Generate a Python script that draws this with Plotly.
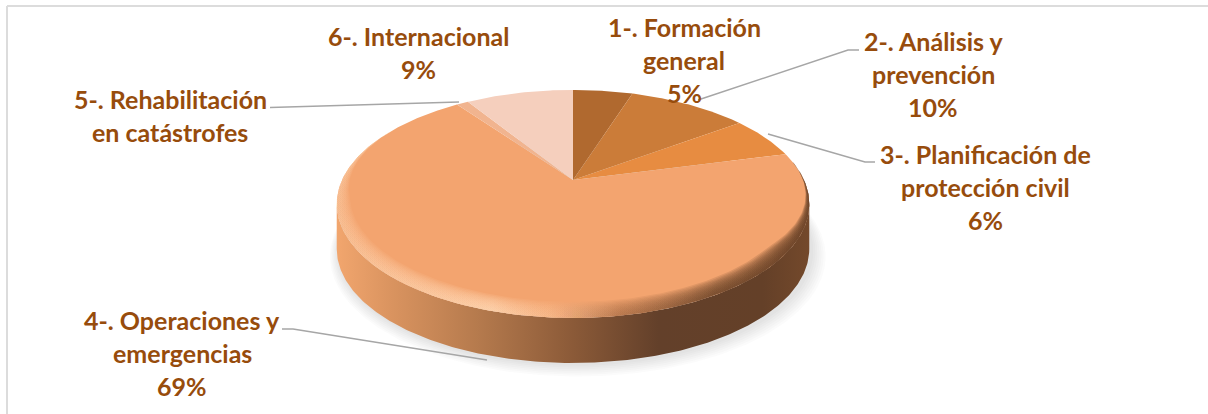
import numpy as np
import plotly.graph_objects as go

categories = ["1-. Formación general", "2-. Análisis y prevención", "3-. Planificación de protección civil",
              "4-. Operaciones y emergencias", "5-. Rehabilitación en catástrofes", "6-. Internacional"]
values = [5, 10, 6, 69, 1, 9]
slice_colors = ["#b0692f", "#cb7c39", "#e78c41", "#f3a46f", "#f1b48f", "#f5cfbd"]
label_lines = [
    ["1-. Formación", "general", "5%"],
    ["2-. Análisis y", "prevención", "10%"],
    ["3-. Planificación de", "protección civil", "6%"],
    ["4-. Operaciones y", "emergencias", "69%"],
    ["5-. Rehabilitación", "en catástrofes"],
    ["6-. Internacional", "9%"],
]
label_x = [684, 933, 985, 182, 170, 418]
label_y = [27, 41, 154, 320, 99, 36]
leader_x = [None, [698, 848, 859], [768, 865, 875], [282, 293, 487], [270, 459], None]
leader_y = [None, [100, 50, 50], [134, 162, 162], [329, 329, 360], [107.5, 102], None]

W, H = 1208, 414
CX, CY, RA, RB, K, DEPTH = 573, 180, 109, 231, 0.21, 45
TEXT = "#974c0c"


def proj(theta, r=1.0):
    w = 1 + K * r * np.cos(theta)
    return CX + RB * r * np.sin(theta) / w, CY - RA * r * np.cos(theta) / w


def poly(x, y, color=None, grad=None):
    kw = dict(fillgradient=grad) if grad else dict(fillcolor=color)
    return go.Scatter(x=x, y=y, mode="lines", fill="toself", line=dict(width=0),
                      hoverinfo="skip", showlegend=False, **kw)


fig = go.Figure()
t_r = np.arccos(-K)
t_l = 2 * np.pi - t_r
full = np.linspace(0, 2 * np.pi, 361)

# soft shadow under the disc
for s in [14, 12, 10, 8, 6, 4, 2]:
    x, y = proj(full, 1 + s / 300)
    fig.add_trace(poly(x + 2 + s * 0.2, y + DEPTH + 1 + s * 0.3, color="rgba(90,90,95,0.025)"))

# side wall
arc = np.linspace(t_r, t_l, 240)
xa, ya = proj(arc)
wall = dict(type="horizontal", start=336, stop=810,
            colorscale=[[0, "#f2a66e"], [0.12, "#d9935f"], [0.3, "#b57a4d"], [0.5, "#8b5a38"],
                        [0.68, "#63402a"], [0.9, "#644028"], [1, "#74492b"]])
fig.add_trace(poly(np.r_[xa, xa[::-1]], np.r_[ya, ya[::-1] + DEPTH], grad=wall))

# pie slices on the top face
edges = np.cumsum([0] + values) / sum(values) * 2 * np.pi
for i, v in enumerate(values):
    t = np.linspace(edges[i], edges[i + 1], max(4, int(v * 6)))
    x, y = proj(t)
    fig.add_trace(poly(np.r_[CX, x, CX], np.r_[CY, y, CY], color=slice_colors[i]))

# bevel on the rim, built from many faint bands so it reads as a blur
bev = np.linspace(np.radians(80), np.radians(300), 240)
env = np.clip((bev - bev[0]) / 0.8, 0, 1) ** 1.5 * np.clip((bev[-1] - bev) / 0.7, 0, 1)
width = (0.045 - 0.05 * np.cos(bev)) * env
for frac in np.linspace(1, 0.08, 12):
    xo, yo = proj(bev)
    xi, yi = proj(bev, 1 - width * frac)
    grad = dict(type="horizontal", start=336, stop=810,
                colorscale=[[0, "rgba(252,200,160,0.09)"], [0.33, "rgba(255,214,178,0.14)"],
                            [0.45, "rgba(250,190,145,0.10)"], [0.6, "rgba(170,110,70,0.12)"],
                            [0.8, "rgba(110,70,42,0.17)"], [1, "rgba(100,62,36,0.19)"]])
    fig.add_trace(poly(np.r_[xo, xi[::-1]], np.r_[yo, yi[::-1]], grad=grad))

# leader lines
for lx, ly in zip(leader_x, leader_y):
    if lx:
        fig.add_trace(go.Scatter(x=lx, y=ly, mode="lines", line=dict(color="#a6a6a6", width=1.5),
                                 hoverinfo="skip", showlegend=False))

# labels
LINE = 32.8
annotations = []
for lines, lx, ly in zip(label_lines, label_x, label_y):
    for j, text in enumerate(lines):
        annotations.append(dict(x=lx, y=ly + j * LINE, text=text, showarrow=False, xanchor="center",
                                yanchor="middle", font=dict(family="Lato", size=25, color=TEXT, weight="bold")))

fig.update_layout(
    width=W, height=H, margin=dict(l=0, r=0, t=0, b=0), paper_bgcolor="white", plot_bgcolor="white",
    xaxis=dict(range=[0, W], visible=False, fixedrange=True),
    yaxis=dict(range=[H, 0], visible=False, fixedrange=True),
    annotations=annotations,
    shapes=[
        dict(type="line", x0=7, x1=W, y0=6, y1=6, line=dict(color="#dcdcdc", width=2)),
        dict(type="line", x0=7, x1=7, y0=6, y1=H, line=dict(color="#dcdcdc", width=2)),
    ],
)
fig.write_html("out.html", config=dict(displayModeBar=False),
               post_script="document.body.style.margin='0';document.body.style.overflow='hidden';")
